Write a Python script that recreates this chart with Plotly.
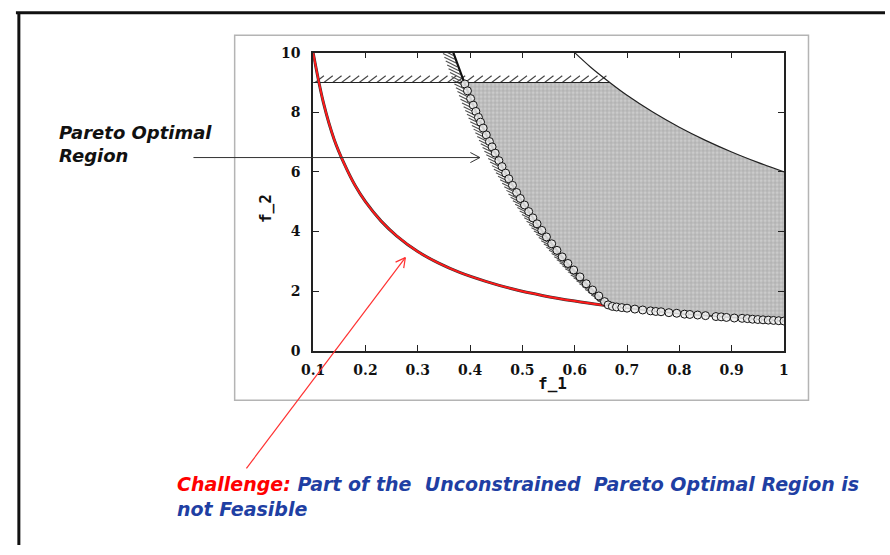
import numpy as np
import plotly.graph_objects as go

# ---------------------------------------------------------------- data (f_1, f_2)
# unconstrained Pareto front (red)
uf_f1 = [0.10, 0.12, 0.14, 0.16, 0.18, 0.20, 0.23, 0.26, 0.30, 0.34, 0.38, 0.43, 0.48, 0.54, 0.60, 0.66]
uf_f2 = [10.0, 8.30, 7.10, 6.25, 5.55, 5.00, 4.35, 3.85, 3.33, 2.94, 2.63, 2.33, 2.08, 1.85, 1.67, 1.52]

# lower constraint boundary (hatched on its infeasible side)
cb_f1 = [0.368, 0.380, 0.390, 0.410, 0.430, 0.450, 0.470, 0.500, 0.530, 0.560, 0.590, 0.620, 0.645, 0.667]
cb_f2 = [10.00, 9.42, 8.95, 8.07, 7.28, 6.56, 5.89, 5.00, 4.21, 3.50, 2.86, 2.29, 1.85, 1.50]

# upper boundary of the feasible region
ub_f1 = [0.600, 0.630, 0.667, 0.700, 0.750, 0.800, 0.850, 0.900, 0.950, 1.000]
ub_f2 = [10.00, 9.52, 9.00, 8.57, 8.00, 7.50, 7.06, 6.67, 6.32, 6.00]

# f_2 cap line
cap_f1 = [0.100, 0.667]
cap_f2 = [9.0, 9.0]

# constrained Pareto optimal solutions (circles): constraint part ...
pc_f1 = [0.390, 0.395, 0.401, 0.406, 0.411, 0.416, 0.420, 0.425, 0.431, 0.437, 0.442, 0.448,
         0.455, 0.461, 0.468, 0.474, 0.481, 0.489, 0.496, 0.504, 0.512, 0.520, 0.528, 0.537,
         0.546, 0.556, 0.566, 0.576, 0.587, 0.598, 0.610, 0.622, 0.634, 0.646, 0.657, 0.664]
pc_f2 = [8.95, 8.72, 8.46, 8.24, 8.03, 7.83, 7.67, 7.47, 7.24, 7.02, 6.84, 6.63,
         6.38, 6.18, 5.96, 5.77, 5.55, 5.31, 5.11, 4.89, 4.67, 4.46, 4.26, 4.04,
         3.82, 3.59, 3.37, 3.15, 2.93, 2.71, 2.48, 2.25, 2.04, 1.84, 1.65, 1.54]
# ... and the unconstrained-front part
pb_f1 = [0.672, 0.680, 0.690, 0.700, 0.715, 0.730, 0.745, 0.755, 0.765, 0.780, 0.795, 0.810, 0.820, 0.835,
         0.850, 0.870, 0.880, 0.890, 0.905, 0.920, 0.930, 0.940, 0.950, 0.960, 0.970, 0.980, 0.990, 1.000]
pb_f2 = [1.49, 1.47, 1.45, 1.43, 1.40, 1.37, 1.34, 1.32, 1.31, 1.28, 1.26, 1.23, 1.22, 1.20,
         1.18, 1.15, 1.14, 1.12, 1.10, 1.09, 1.08, 1.06, 1.05, 1.04, 1.03, 1.02, 1.01, 1.00]

x_ticks = [0.1, 0.2, 0.3, 0.4, 0.5, 0.6, 0.7, 0.8, 0.9, 1.0]
x_tick_text = ["0.1", "0.2", "0.3", "0.4", "0.5", "0.6", "0.7", "0.8", "0.9", "1"]
y_ticks = [0, 2, 4, 6, 8, 10]
y_tick_text = ["0", "2", "4", "6", "8", "10"]

# ---------------------------------------------------------------- geometry helpers
W, H = 890, 555
X0, X1 = 307, 787      # pixel span of the f_1 axis
Y0, Y1 = 353, 46       # pixel span of the f_2 axis
XR = (0.1, 1.0)
YR = (0.0, 10.0)


def px(x):
    return x / W


def py(y):
    return 1 - y / H


def to_px(f1, f2):
    f1 = np.asarray(f1, float)
    f2 = np.asarray(f2, float)
    return (X0 + (f1 - XR[0]) / (XR[1] - XR[0]) * (X1 - X0),
            Y0 - (f2 - YR[0]) / (YR[1] - YR[0]) * (Y0 - Y1))


def to_data(x, y):
    x = np.asarray(x, float)
    y = np.asarray(y, float)
    return (XR[0] + (x - X0) / (X1 - X0) * (XR[1] - XR[0]),
            YR[0] + (Y0 - y) / (Y0 - Y1) * (YR[1] - YR[0]))


def strokes(starts_px, dx, dy):
    """short hatch strokes starting at pixel points, offset by (dx, dy) pixels"""
    xs, ys = [], []
    for (x, y) in starts_px:
        a = to_data(x, y)
        b = to_data(x + dx, y + dy)
        xs += [float(a[0]), float(b[0]), None]
        ys += [float(a[1]), float(b[1]), None]
    return xs, ys


fig = go.Figure()

# feasible region (stippled grey)
top = [(f, g) for f, g in zip(ub_f1, ub_f2) if g <= 9.0]
poly = [(cb_f1[2], 9.0)] + top + [(1.0, 1.0)] \
    + list(zip(pb_f1[::-1], pb_f2[::-1])) + list(zip(cb_f1[2:][::-1], cb_f2[2:][::-1]))
fig.add_trace(go.Scatter(
    x=[p[0] for p in poly], y=[p[1] for p in poly], mode="lines", fill="toself",
    fillcolor="#cbcbcb", line=dict(width=0),
    fillpattern=dict(shape="+", fgcolor="#8a8a8a", size=4, solidity=0.4, fillmode="overlay"),
    hoverinfo="skip"))

# hatching above the f_2 cap line
cx0, cy0 = to_px(cap_f1, cap_f2)
hx = np.arange(cx0[0] + 2, cx0[1] - 4, 9.0)
sx, sy = strokes([(x, cy0[0]) for x in hx], 9, -7)
fig.add_trace(go.Scatter(x=sx, y=sy, mode="lines", line=dict(color="#444444", width=1.1),
                         hoverinfo="skip"))

# hatching on the infeasible side of the constraint boundary
bx, by = to_px(cb_f1, cb_f2)
seg = np.hypot(np.diff(bx), np.diff(by))
s = np.concatenate([[0], np.cumsum(seg)])
si = np.arange(3, s[-1] + 5, 4.2)
hx2 = np.interp(si, s, bx)
hy2 = np.interp(si, s, by)
sx, sy = strokes(list(zip(hx2 - 1, hy2)), -12, -6)
fig.add_trace(go.Scatter(x=sx, y=sy, mode="lines", line=dict(color="#505050", width=1.1),
                         hoverinfo="skip"))

# boundary lines
fig.add_trace(go.Scatter(x=ub_f1, y=ub_f2, mode="lines", line=dict(color="#222222", width=1.2),
                         line_shape="spline", hoverinfo="skip"))
fig.add_trace(go.Scatter(x=cap_f1, y=cap_f2, mode="lines", line=dict(color="#222222", width=1.2),
                         hoverinfo="skip"))
fig.add_trace(go.Scatter(x=cb_f1, y=cb_f2, mode="lines", line=dict(color="#111111", width=2.2),
                         line_shape="spline", hoverinfo="skip"))

# unconstrained front: black curve with the red highlight on top
fig.add_trace(go.Scatter(x=uf_f1, y=uf_f2, mode="lines", line=dict(color="#333333", width=3.0),
                         line_shape="spline", hoverinfo="skip"))
fig.add_trace(go.Scatter(x=uf_f1, y=uf_f2, mode="lines", line=dict(color="#ff1a1a", width=2),
                         line_shape="spline", hoverinfo="skip"))

# constrained Pareto optimal solutions
fig.add_trace(go.Scatter(x=pb_f1, y=pb_f2, mode="lines", line=dict(color="#222222", width=1.5),
                         hoverinfo="skip"))
fig.add_trace(go.Scatter(
    x=pc_f1 + pb_f1, y=pc_f2 + pb_f2, mode="markers",
    marker=dict(symbol="circle", size=8, color="rgba(240,240,240,0.85)",
                line=dict(color="#111111", width=1)),
    hoverinfo="skip"))

# ---------------------------------------------------------------- decorations
shapes = []
# slide frame (top and left edges)
shapes.append(dict(type="line", xref="paper", yref="paper", x0=px(4), y0=py(5), x1=px(890), y1=py(5),
                   line=dict(color="#111111", width=3)))
shapes.append(dict(type="line", xref="paper", yref="paper", x0=px(7), y0=py(4), x1=px(7), y1=py(553),
                   line=dict(color="#111111", width=3)))
# frame of the embedded figure
shapes.append(dict(type="rect", xref="paper", yref="paper", x0=px(227), y0=py(28), x1=px(812), y1=py(404),
                   line=dict(color="#b4b4b4", width=1.5), layer="below"))


def arrow(x0, y0, x1, y1, color, width, head=10):
    d = np.array([x1 - x0, y1 - y0], float)
    d /= np.hypot(*d)
    out = [dict(type="line", xref="paper", yref="paper", x0=px(x0), y0=py(y0), x1=px(x1), y1=py(y1),
                line=dict(color=color, width=width))]
    for ang in (np.radians(28), -np.radians(28)):
        c, s_ = np.cos(ang), np.sin(ang)
        r = np.array([-d[0] * c + d[1] * s_, -d[0] * s_ - d[1] * c]) * head
        out.append(dict(type="line", xref="paper", yref="paper", x0=px(x1), y0=py(y1),
                        x1=px(x1 + r[0]), y1=py(y1 + r[1]), line=dict(color=color, width=width)))
    return out


shapes += arrow(185, 154, 477, 154, "#333333", 1, head=11)
shapes += arrow(239, 474, 401, 257, "#ff3030", 1.2, head=11)

annotations = [
    dict(text="<b><i>Pareto Optimal<br>Region</i></b>", xref="paper", yref="paper",
         x=px(46), y=py(140), xanchor="left", yanchor="middle", align="left", showarrow=False,
         font=dict(family="DejaVu Sans", size=18, color="#111111")),
    dict(text="<b><i><span style='color:#ff0000'>Challenge:</span> Part of the \u00a0Unconstrained "
              "\u00a0Pareto Optimal Region is<br>not Feasible</i></b>",
         xref="paper", yref="paper", x=px(166), y=py(503), xanchor="left", yanchor="middle",
         align="left", showarrow=False,
         font=dict(family="DejaVu Sans", size=19, color="#1f3fa3")),
    dict(text="<b>f_1</b>", xref="paper", yref="paper", x=px(551), y=py(387),
         xanchor="center", yanchor="middle", showarrow=False,
         font=dict(family="DejaVu Sans Mono", size=16, color="#111111")),
    dict(text="<b>f_2</b>", xref="paper", yref="paper", x=px(258), y=py(207), textangle=-90,
         xanchor="center", yanchor="middle", showarrow=False,
         font=dict(family="DejaVu Sans Mono", size=16, color="#111111")),
]

axis_common = dict(showgrid=False, zeroline=False, showline=True, linecolor="#222222", linewidth=1.5,
                   mirror="ticks", ticks="inside", ticklen=6, tickwidth=1.2, tickcolor="#222222",
                   tickfont=dict(family="DejaVu Serif", size=14, color="#111111", weight="bold"))

fig.update_layout(
    width=W, height=H, margin=dict(l=0, r=0, t=0, b=0),
    paper_bgcolor="white", plot_bgcolor="white", showlegend=False,
    xaxis=dict(domain=[px(X0), px(X1)], range=list(XR), tickvals=x_ticks, ticktext=x_tick_text,
               ticklabelstandoff=6, **axis_common),
    yaxis=dict(domain=[py(Y0), py(Y1)], range=list(YR), tickvals=y_ticks, ticktext=y_tick_text,
               ticklabelstandoff=8, **axis_common),
    shapes=shapes, annotations=annotations,
)

fig.write_html("out.html")
